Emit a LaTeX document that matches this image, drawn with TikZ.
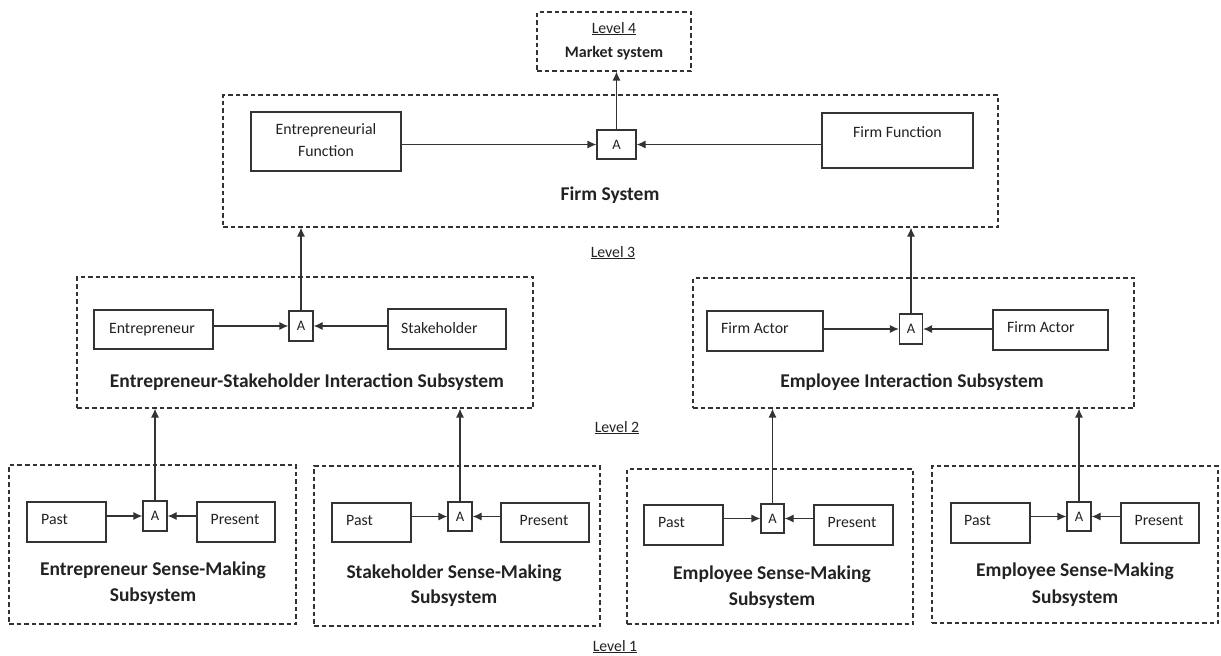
\documentclass[tikz,border=0pt]{standalone}
\usepackage{fontspec}
\setmainfont{Carlito}
\usetikzlibrary{arrows.meta}
\definecolor{linec}{HTML}{333333}
\definecolor{textc}{HTML}{222222}
\begin{document}
\begin{tikzpicture}[x=1pt,y=-1pt,
  box/.style={draw=linec, line width=1.2pt, fill=white, inner sep=0pt},
  sys/.style={draw=linec, line width=1.1pt, dash pattern=on 4.5pt off 3pt, inner sep=0pt},
  abox/.style={box, text=textc, font=\fontsize{14.5}{16}\selectfont},
  txt/.style={text=textc, font=\fontsize{15.8}{18}\selectfont, inner sep=0pt},
  lab/.style={text=textc, font=\bfseries\fontsize{19.5}{24}\selectfont, inner sep=0pt, anchor=base},
  arr/.style={draw=linec, line width=1.2pt, -{Latex[length=9pt,width=8pt]}}
]
\useasboundingbox (0,0) rectangle (1221,656);

% ---------------- Level 4
\node[sys, minimum width=154pt, minimum height=59pt] (l4) at (614,41.5) {};
\node[txt, anchor=base] (l4t) at (614,33) {\underline{Level 4}};
\node[txt, anchor=base, font=\bfseries\fontsize{16}{18}\selectfont] (l4m) at (614,57) {Market system};

% ---------------- Level 3
\node[sys, minimum width=775pt, minimum height=132pt] (l3) at (610.5,161) {};
\node[box, minimum width=150pt, minimum height=59pt] (ef) at (326,141.5) {};
\node[txt, anchor=base] (eft1) at (326,134) {Entrepreneurial};
\node[txt, anchor=base] (eft2) at (326,156) {Function};
\node[abox, minimum width=39pt, minimum height=29pt] (a3) at (616.5,144.5) {A};
\node[box, minimum width=151pt, minimum height=55pt] (ff) at (897.5,140.5) {};
\node[txt, anchor=base] (fft) at (897.5,137) {Firm Function};
\node[lab] (l3lab) at (610,200) {Firm System};
\node[txt, anchor=base] (lv3) at (613,257) {\underline{Level 3}};

\draw[arr] (ef.east |- a3.west) -- (a3.west);
\draw[arr] (ff.west |- a3.east) -- (a3.east);
\draw[arr] (a3.north) -- (a3.north |- l4.south);

% ---------------- Level 2 left
\node[sys, minimum width=456pt, minimum height=131pt] (l2l) at (305,342.5) {};
\node[box, minimum width=119pt, minimum height=39pt] (en) at (153.5,329.5) {};
\node[txt, anchor=base] (ent) at (152,333) {Entrepreneur};
\node[abox, minimum width=24pt, minimum height=30pt] (a2l) at (301,326) {A};
\node[box, minimum width=118pt, minimum height=40pt] (st) at (447,329) {};
\node[txt, anchor=base west] (stt) at (401,333) {Stakeholder};
\node[lab] (l2llab) at (307,387) {Entrepreneur-Stakeholder Interaction Subsystem};

\draw[arr] (en.east |- a2l.west) -- (a2l.west);
\draw[arr] (st.west |- a2l.east) -- (a2l.east);
\draw[arr] (a2l.north) -- (a2l.north |- l3.south);

% ---------------- Level 2 right
\node[sys, minimum width=441pt, minimum height=130pt] (l2r) at (913.5,343) {};
\node[box, minimum width=116pt, minimum height=40pt] (fa1) at (765,331) {};
\node[txt, anchor=base west] (fa1t) at (721,333) {Firm Actor};
\node[abox, minimum width=23pt, minimum height=30pt] (a2r) at (911,329) {A};
\node[box, minimum width=115pt, minimum height=40pt] (fa2) at (1050.5,330) {};
\node[txt, anchor=base west] (fa2t) at (1007,332) {Firm Actor};
\node[lab] (l2rlab) at (912,387) {Employee Interaction Subsystem};
\node[txt, anchor=base] (lv2) at (617,432) {\underline{Level 2}};

\draw[arr] (fa1.east |- a2r.west) -- (a2r.west);
\draw[arr] (fa2.west |- a2r.east) -- (a2r.east);
\draw[arr] (a2r.north) -- (a2r.north |- l3.south);

% ---------------- Level 1, box 1
\node[sys, minimum width=287pt, minimum height=159pt] (s1) at (152.5,544.5) {};
\node[box, minimum width=79pt, minimum height=40pt] (p1) at (66.5,522) {};
\node[txt, anchor=base west] (p1t) at (41,524) {Past};
\node[abox, minimum width=24pt, minimum height=30pt] (a1) at (155,516) {A};
\node[box, minimum width=78pt, minimum height=40pt] (r1) at (236,522) {};
\node[txt, anchor=base] (r1t) at (235,524) {Present};
\node[lab] (s1a) at (153,575) {Entrepreneur Sense-Making};
\node[lab] (s1b) at (153,601) {Subsystem};
\draw[arr] (p1.east |- a1.west) -- (a1.west);
\draw[arr] (r1.west |- a1.east) -- (a1.east);
\draw[arr] (a1.north) -- (a1.north |- l2l.south);

% ---------------- Level 1, box 2
\node[sys, minimum width=286pt, minimum height=160pt] (s2) at (457,546) {};
\node[box, minimum width=79pt, minimum height=39pt] (p2) at (371.5,522.5) {};
\node[txt, anchor=base west] (p2t) at (346,525) {Past};
\node[abox, minimum width=24pt, minimum height=29pt] (a2) at (460,516.5) {A};
\node[box, minimum width=88pt, minimum height=39pt] (r2) at (545,522.5) {};
\node[txt, anchor=base] (r2t) at (544,525) {Present};
\node[lab] (s2a) at (454,578) {Stakeholder Sense-Making};
\node[lab] (s2b) at (454,603) {Subsystem};
\draw[arr] (p2.east |- a2.west) -- (a2.west);
\draw[arr] (r2.west |- a2.east) -- (a2.east);
\draw[arr] (a2.north) -- (a2.north |- l2l.south);

% ---------------- Level 1, box 3
\node[sys, minimum width=286pt, minimum height=155pt] (s3) at (770,546.5) {};
\node[box, minimum width=79pt, minimum height=40pt] (p3) at (683.5,525) {};
\node[txt, anchor=base west] (p3t) at (658,527) {Past};
\node[abox, minimum width=23pt, minimum height=29pt] (a3b) at (772.5,518.5) {A};
\node[box, minimum width=79pt, minimum height=40pt] (r3) at (853.5,525) {};
\node[txt, anchor=base] (r3t) at (852,527) {Present};
\node[lab] (s3a) at (772,579) {Employee Sense-Making};
\node[lab] (s3b) at (772,605) {Subsystem};
\draw[arr] (p3.east |- a3b.west) -- (a3b.west);
\draw[arr] (r3.west |- a3b.east) -- (a3b.east);
\draw[arr] (a3b.north) -- (a3b.north |- l2r.south);

% ---------------- Level 1, box 4
\node[sys, minimum width=286pt, minimum height=157pt] (s4) at (1075,544.5) {};
\node[box, minimum width=79pt, minimum height=40pt] (p4) at (990.5,523) {};
\node[txt, anchor=base west] (p4t) at (964,525) {Past};
\node[abox, minimum width=24pt, minimum height=29pt] (a4) at (1079,516.5) {A};
\node[box, minimum width=78pt, minimum height=40pt] (r4) at (1160,523) {};
\node[txt, anchor=base] (r4t) at (1159,525) {Present};
\node[lab] (s4a) at (1075,576) {Employee Sense-Making};
\node[lab] (s4b) at (1075,603) {Subsystem};
\draw[arr] (p4.east |- a4.west) -- (a4.west);
\draw[arr] (r4.west |- a4.east) -- (a4.east);
\draw[arr] (a4.north) -- (a4.north |- l2r.south);

\node[txt, anchor=base] (lv1) at (615,651) {\underline{Level 1}};
\end{tikzpicture}
\end{document}
